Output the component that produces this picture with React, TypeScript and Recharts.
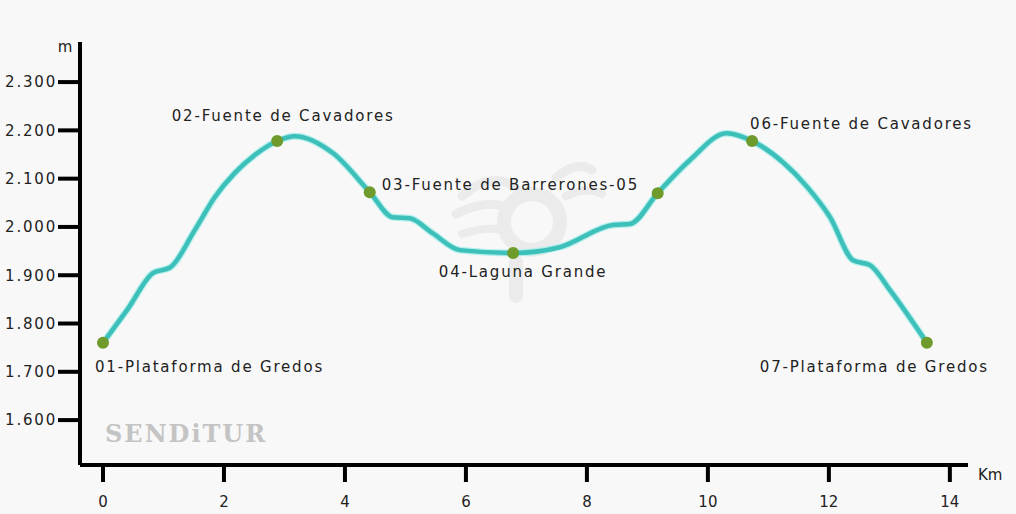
import React from 'react';
import { ComposedChart, Line, Scatter, XAxis, YAxis } from 'recharts';

// elevation profile (km, metres)
const profileKm = [0, 0.42, 0.83, 1.11, 1.52, 1.85, 2.18, 2.51, 2.88, 3.17, 3.8, 4.41, 4.79, 5.07, 5.45, 5.9, 6.78, 7.55, 8.43, 8.71, 9.17, 9.7, 10.31, 10.73, 11.24, 11.64, 12.02, 12.4, 12.68, 13.01, 13.62];
const profileElev = [1760, 1832, 1905, 1916, 1994, 2062, 2112, 2149, 2178, 2188, 2153, 2072, 2020, 2018, 1987, 1952, 1946, 1958, 2004, 2006, 2070, 2138, 2194, 2178, 2134, 2083, 2020, 1931, 1921, 1869, 1760];

// waypoints
const wpKm = [0, 2.88, 4.41, 6.78, 9.17, 10.73, 13.62];
const wpElev = [1760, 2178, 2072, 1946, 2070, 2178, 1760];
const wpNames = ['01-Plataforma de Gredos', '02-Fuente de Cavadores', '03-Fuente de Barrerones-05', '04-Laguna Grande', '', '06-Fuente de Cavadores', '07-Plataforma de Gredos'];

const xTicks = [0, 2, 4, 6, 8, 10, 12, 14];
const yTicks = [1600, 1700, 1800, 1900, 2000, 2100, 2200, 2300];

const profile = profileKm.map((km, i) => ({ km, elev: profileElev[i] }));
const waypoints = wpKm.map((km, i) => ({ km, elev: wpElev[i], name: wpNames[i] }));

const FONT = '"DejaVu Sans", Verdana, sans-serif';

// where each label sits relative to its dot
const labelPos: Record<number, { dx: number; dy: number; anchor: 'start' | 'middle' | 'end' }> = {
  0: { dx: -8, dy: 24, anchor: 'start' },
  1: { dx: 6, dy: -25, anchor: 'middle' },
  2: { dx: 12, dy: -7, anchor: 'start' },
  3: { dx: 10, dy: 19, anchor: 'middle' },
  5: { dx: -2, dy: -17, anchor: 'start' },
  6: { dx: 62, dy: 24, anchor: 'end' },
};

const WaypointDot = (props: any) => {
  const { cx, cy, payload, index } = props;
  const pos = labelPos[index];
  return (
    <g>
      <circle cx={cx} cy={cy} r={6} fill="#6f9a2c" />
      {pos && payload.name ? (
        <text
          x={cx + pos.dx}
          y={cy + pos.dy}
          textAnchor={pos.anchor}
          dominantBaseline="central"
          fontFamily={FONT}
          fontSize={15}
          letterSpacing={1.8}
          fill="#222"
        >
          {payload.name}
        </text>
      ) : null}
    </g>
  );
};

const fmt = (v: number) => `${Math.floor(v / 1000)}.${String(v % 1000).padStart(3, '0')}`;

export default function App() {
  return (
    <div style={{ position: 'fixed', left: 0, top: 0, width: 1016, height: 514, background: '#f8f8f8', overflow: 'hidden' }}>
      {/* watermark */}
      <svg width={1016} height={514} style={{ position: 'absolute', left: 0, top: 0 }}>
        <g opacity={0.3} fill="none" stroke="#cfcfcf" strokeLinecap="round">
          <circle cx={532} cy={222} r={28} strokeWidth={14} />
          <path d="M462 196 Q492 170 516 188" strokeWidth={9} />
          <path d="M456 214 Q488 198 508 208" strokeWidth={9} />
          <path d="M462 234 Q486 226 504 230" strokeWidth={8} />
          <path d="M556 178 Q576 160 592 170" strokeWidth={9} />
          <path d="M566 196 Q588 186 602 194" strokeWidth={8} />
          <path d="M516 262 L516 296" strokeWidth={14} />
        </g>
        <text x={105} y={442} fontFamily='"DejaVu Serif", serif' fontWeight="bold" fontSize={24} letterSpacing={2} fill="#c4c4c4">
          SENDiTUR
        </text>
        <text x={65} y={52} fontFamily={FONT} fontSize={15} fill="#222" textAnchor="middle">m</text>
        <text x={978} y={480} fontFamily={FONT} fontSize={15} fill="#222">Km</text>
      </svg>
      <div style={{ position: 'absolute', left: 0, top: 0 }}>
        <ComposedChart width={1016} height={514} margin={{ top: 42, right: 48, bottom: 0, left: 0 }}>
          <XAxis
            type="number"
            dataKey="km"
            domain={[-0.38, 14.3]}
            ticks={xTicks}
            height={49}
            axisLine={{ stroke: '#000', strokeWidth: 4 }}
            tickLine={{ stroke: '#000', strokeWidth: 4 }}
            tickSize={17}
            tickMargin={14}
            tick={{ fontFamily: FONT, fontSize: 15, fill: '#222' }}
          />
          <YAxis
            type="number"
            dataKey="elev"
            domain={[1507, 2383]}
            ticks={yTicks}
            width={80}
            tickFormatter={fmt}
            axisLine={{ stroke: '#000', strokeWidth: 4 }}
            tickLine={{ stroke: '#000', strokeWidth: 4 }}
            tickSize={22}
            tickMargin={1}
            tick={{ fontFamily: FONT, fontSize: 15, fill: '#222', letterSpacing: 1.8 }}
          />
          <Line data={profile} dataKey="elev" type="monotone" stroke="#b5efec" strokeWidth={7} dot={false} isAnimationActive={false} />
          <Line data={profile} dataKey="elev" type="monotone" stroke="#3dbfba" strokeWidth={4.5} dot={false} isAnimationActive={false} />
          <Scatter data={waypoints} dataKey="elev" shape={WaypointDot} isAnimationActive={false} />
        </ComposedChart>
      </div>
    </div>
  );
}
